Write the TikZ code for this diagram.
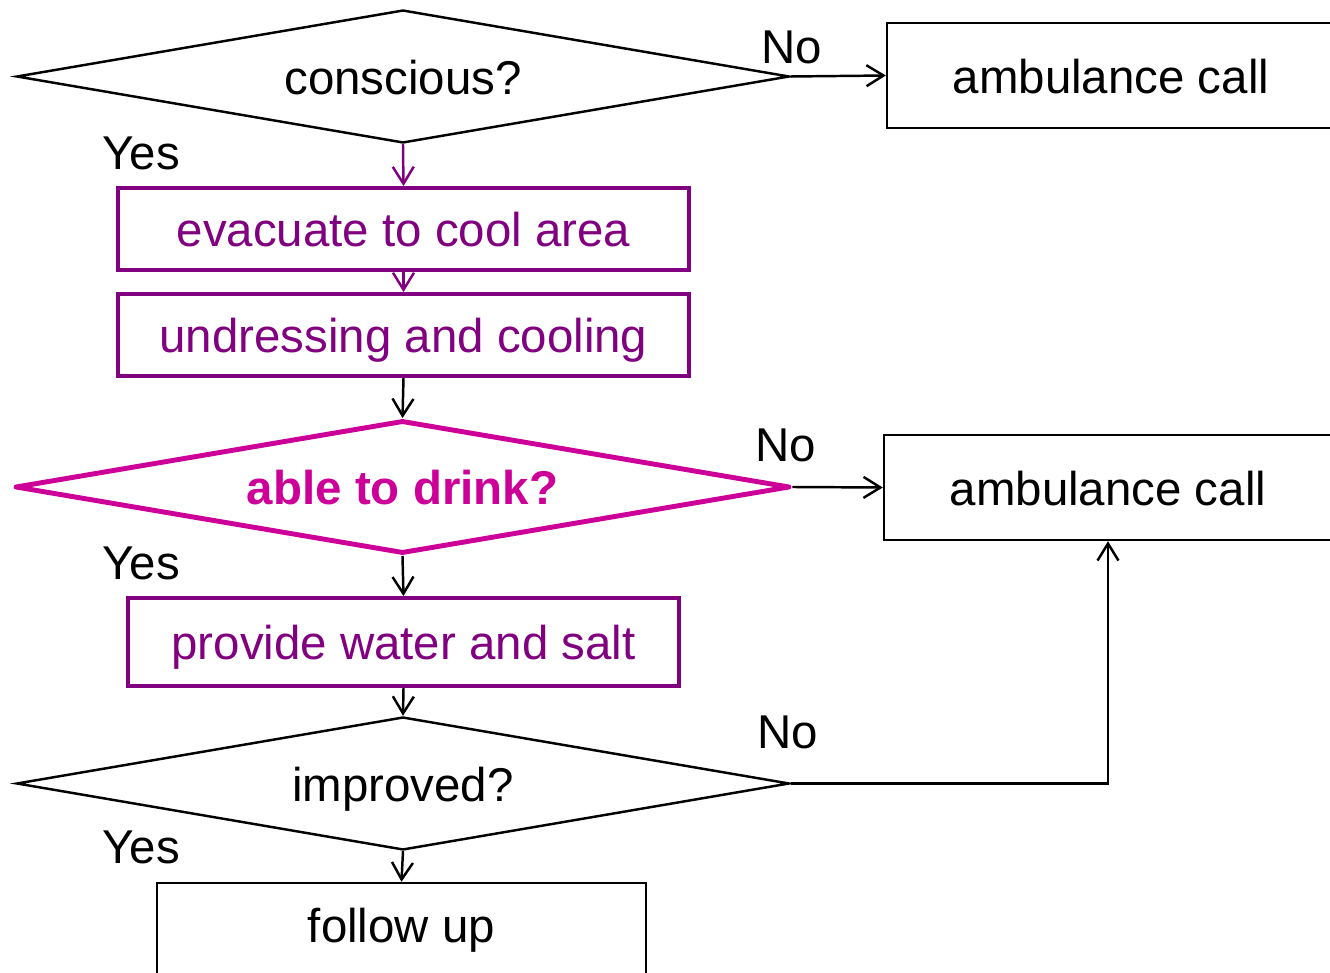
\documentclass[tikz,border=0pt]{standalone}
\usepackage{fontspec}
\setmainfont{Liberation Sans}
\usetikzlibrary{shapes.geometric,arrows.meta}
\definecolor{boxPurple}{RGB}{128,0,128}
\definecolor{drinkMagenta}{RGB}{204,0,153}

\begin{document}
\begin{tikzpicture}[x=0.02cm,y=-0.02cm,>={Straight Barb[length=0.34cm,width=0.42cm]},font=\fontsize{27}{32}\selectfont,
                question/.style={diamond,draw,line width=1.4pt,aspect=5.8,minimum width=15.46cm,minimum height=2.66cm,inner sep=0pt,text height=0.8cm,text depth=0.09cm},
                stepbox/.style={rectangle,draw,line width=1.4pt,inner sep=0pt,text height=0.8cm,text depth=0.09cm},
                purplebox/.style={stepbox,draw=boxPurple,text=boxPurple,line width=2.2pt},
                answer/.style={inner sep=0pt}]
                \useasboundingbox (0,0) rectangle (1330,973);
                % decisions
                \node[question] (conscious) at (403,76.5) {conscious?};
                \node[question,draw=drinkMagenta,text=drinkMagenta,line width=2.8pt,line join=round,minimum width=15.5cm,font=\fontsize{27}{32}\selectfont\bfseries] (drink) at (402.5,487) {able to drink?};
                \node[question] (improved) at (403,783.5) {improved?};
                % steps
                \node[stepbox,minimum width=8.96cm,minimum height=2.1cm] (ambulanceA) at (1111,75.5) {ambulance call};
                \node[purplebox,minimum width=11.42cm,minimum height=1.64cm] (evacuate) at (403.5,229) {evacuate to cool area};
                \node[purplebox,minimum width=11.42cm,minimum height=1.64cm] (undress) at (403.5,335) {undressing and cooling};
                \node[stepbox,minimum width=8.96cm,minimum height=2.1cm] (ambulanceB) at (1108,487.5) {ambulance call};
                \node[purplebox,minimum width=11.02cm,minimum height=1.76cm] (water) at (403.5,642) {provide water and salt};
                \node[stepbox,minimum width=9.78cm,minimum height=2cm,text height=0.6cm,text depth=0.21cm] (followUp) at (401.5,933) {follow up};
                % answers
                \node[answer] (noA) at (792,47) {No};
                \node[answer] (yesA) at (141,153) {Yes};
                \node[answer] (noB) at (786,445) {No};
                \node[answer] (yesB) at (141,563) {Yes};
                \node[answer] (noC) at (788,732) {No};
                \node[answer] (yesC) at (141,847) {Yes};
                % connectors
                \draw[->,line width=1.4pt] (conscious.east) -- (ambulanceA.west);
                \draw[->,line width=1.4pt,boxPurple] (conscious.south) -- (evacuate.north);
                \draw[->,line width=1.4pt,boxPurple] (evacuate.south) -- (undress.north);
                \draw[->,line width=1.4pt] (undress.south) -- (drink.north);
                \draw[->,line width=1.4pt] (drink.east) -- (ambulanceB.west);
                \draw[->,line width=1.4pt] (drink.south) -- (water.north);
                \draw[->,line width=1.4pt] (water.south) -- (improved.north);
                \draw[->,line width=1.4pt] (improved.east) -| (ambulanceB.south);
                \draw[->,line width=1.4pt] (improved.south) -- (followUp.north);
            \end{tikzpicture}
\end{document}
